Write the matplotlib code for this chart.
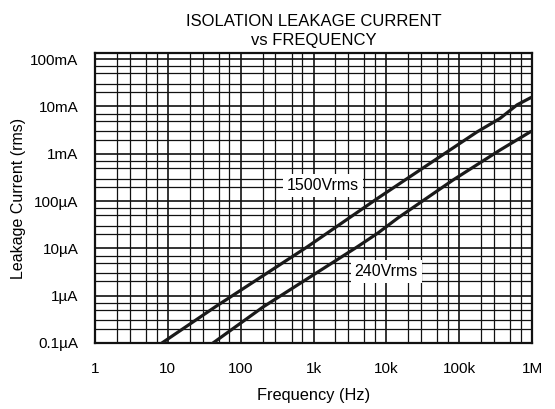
import matplotlib
matplotlib.use('Agg')
import matplotlib.pyplot as plt
from matplotlib.ticker import LogLocator, NullFormatter

plt.rcParams['font.family'] = ['Liberation Sans', 'DejaVu Sans']

# values
freq_1500 = [8.3, 44.5, 815, 7690, 82400, 176000, 364000, 622000, 940000]
curr_1500 = [1e-7, 5.77e-7, 1.07e-5, 1.16e-4, 1.33e-3, 2.9e-3, 5.6e-3, 1.08e-2, 1.51e-2]

freq_240 = [41.7, 203, 3960, 7690, 14400, 82400, 364000, 940000]
curr_240 = [1e-7, 5.77e-7, 1.07e-5, 2.12e-5, 4.39e-5, 2.79e-4, 1.20e-3, 2.89e-3]

x_ticks = [1, 10, 100, 1e3, 1e4, 1e5, 1e6]
x_labels = ['1', '10', '100', '1k', '10k', '100k', '1M']
y_ticks = [1e-7, 1e-6, 1e-5, 1e-4, 1e-3, 1e-2, 1e-1]
y_labels = ['0.1\u00b5A', '1\u00b5A', '10\u00b5A', '100\u00b5A', '1mA', '10mA', '100mA']

fig = plt.figure(figsize=(5.55, 4.09), dpi=100)
ax = fig.add_axes([0.1712, 0.1614, 0.7874, 0.709])

ax.set_xscale('log')
ax.set_yscale('log')
ax.set_xlim(1, 1e6)
ax.set_ylim(1e-7, 0.135)

# the printed grid only has some of the minor lines
ax.xaxis.set_minor_locator(LogLocator(base=10, subs=[2, 3, 5, 7], numticks=20))
ax.yaxis.set_minor_locator(LogLocator(base=10, subs=[2, 3, 5, 7], numticks=20))
ax.xaxis.set_minor_formatter(NullFormatter())
ax.yaxis.set_minor_formatter(NullFormatter())
ax.grid(True, which='major', color='#111111', linewidth=1.2)
ax.grid(True, which='minor', color='#111111', linewidth=0.9)
ax.set_axisbelow(True)

ax.plot(freq_1500, curr_1500, color='#1a1a1a', linewidth=2.3, zorder=3)
ax.plot(freq_240, curr_240, color='#1a1a1a', linewidth=2.3, zorder=3)

ax.set_xticks(x_ticks)
ax.set_xticklabels(x_labels)
ax.set_yticks(y_ticks)
ax.set_yticklabels(y_labels)
ax.tick_params(which='both', length=0)
ax.tick_params(axis='x', pad=14, labelsize=11)
ax.tick_params(axis='y', pad=12, labelsize=11)

for s in ax.spines.values():
    s.set_linewidth(1.6)
    s.set_color('#111111')

# curve labels on white boxes
ax.text(1350, 2.1e-4, '1500Vrms', fontsize=11.5, ha='center', va='center', zorder=4,
        bbox=dict(facecolor='white', edgecolor='none', pad=3))
ax.text(10000, 3.3e-6, '240Vrms', fontsize=11.5, ha='center', va='center', zorder=4,
        bbox=dict(facecolor='white', edgecolor='none', pad=3))

ax.set_xlabel('Frequency (Hz)', fontsize=11.8, labelpad=8)
ax.set_ylabel('Leakage Current (rms)', fontsize=11.5, labelpad=3)
ax.set_title('ISOLATION LEAKAGE CURRENT\nvs FREQUENCY', fontsize=12, pad=6, linespacing=1.3)

fig.savefig('out.png', dpi=100)
